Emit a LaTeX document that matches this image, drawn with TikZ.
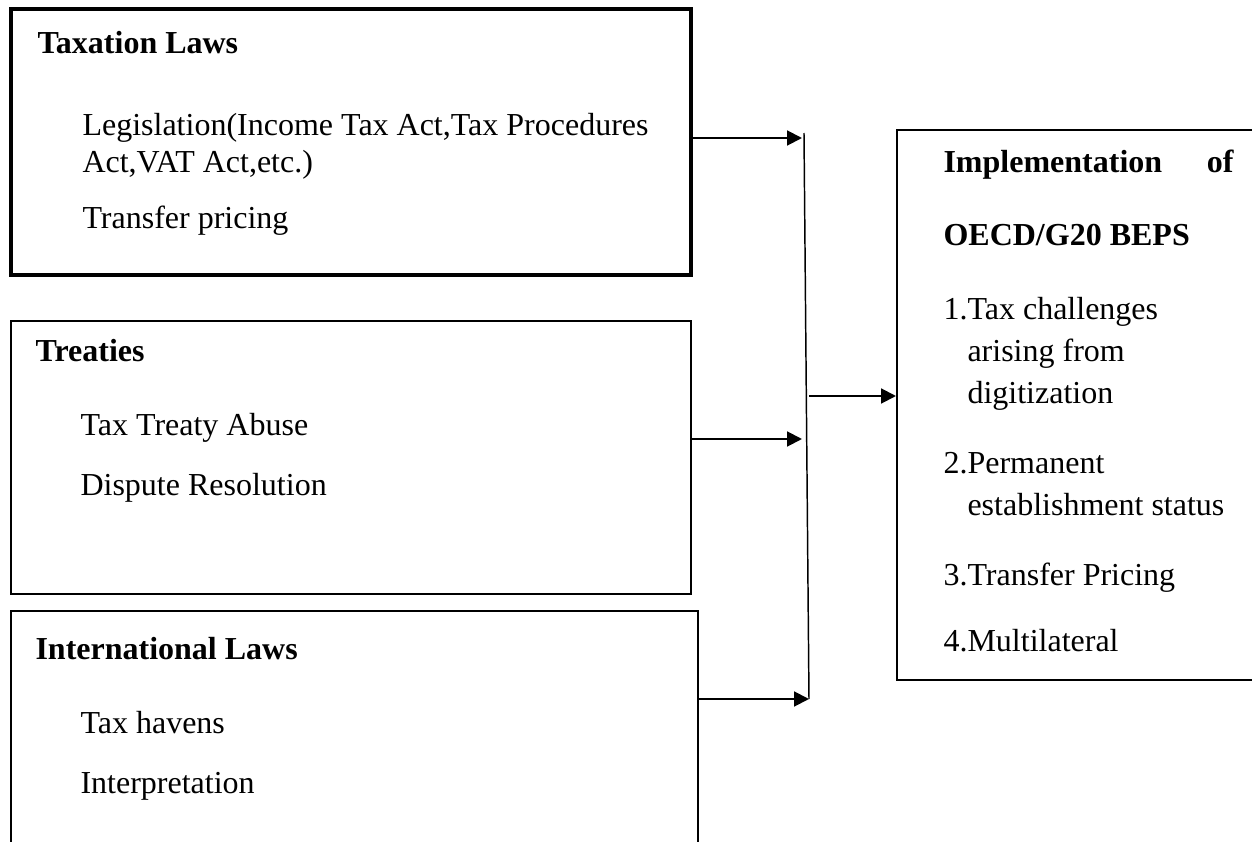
\documentclass[tikz,border=0pt]{standalone}
\usepackage{fontspec}
\setmainfont{Liberation Serif}
\usetikzlibrary{arrows.meta,fit}
\begin{document}
\begin{tikzpicture}[x=0.375pt,y=-0.375pt,
  frame/.style={draw=black,line width=0.75pt,inner sep=0pt},
  thickframe/.style={draw=black,line width=1.5pt,inner sep=0pt},
  txt/.style={anchor=base west,inner sep=0pt,font=\fontsize{12pt}{13.8pt}\selectfont},
  head/.style={txt,font=\fontsize{12pt}{13.8pt}\selectfont\bfseries},
  arr/.style={draw=black,line width=0.75pt,-{Triangle[length=5.6pt,width=5.6pt]}},
  bar/.style={draw=black,line width=0.55pt}]
\useasboundingbox (0,0) rectangle (1252,842);
\fill[white] (0,0) rectangle (1252,842);
\begin{scope}
\clip (0,0) rectangle (1252,842);

% boxes
\node[thickframe,fit={(11,9)(691,275)}] (tax) {};
\node[frame,fit={(11,321)(691,594)}] (treaty) {};
\node[frame,fit={(11,611)(698,880)}] (intl) {};
\node[frame,fit={(897,130)(1262,680)}] (beps) {};

% taxation laws
\node[head] (t0) at (37,53) {Taxation Laws};
\node[txt] (t1) at (82,135) {Legislation(Income Tax Act,Tax Procedures};
\node[txt] (t2) at (82,173) {Act,VAT Act,etc.)};
\node[txt] (t3) at (82,228) {Transfer pricing};

% treaties
\node[head] (r0) at (35,361) {Treaties};
\node[txt] (r1) at (80,435) {Tax Treaty Abuse};
\node[txt] (r2) at (80,495) {Dispute Resolution};

% international laws
\node[head] (i0) at (35,659) {International Laws};
\node[txt] (i1) at (80,733) {Tax havens};
\node[txt] (i2) at (80,793) {Interpretation};

% BEPS implementation
\node[head] (b0) at (943,172) {\hbox to 108.75pt{Implementation\hfill of}};
\node[head] (b1) at (943,245) {OECD/G20 BEPS};
\node[txt] (b2) at (943,319) {1.Tax challenges};
\node[txt] (b3) at (967,361) {arising from};
\node[txt] (b4) at (967,403) {digitization};
\node[txt] (b5) at (943,473) {2.Permanent};
\node[txt] (b6) at (967,515) {establishment status};
\node[txt] (b7) at (943,585) {3.Transfer Pricing};
\node[txt] (b8) at (943,651) {4.Multilateral};

% collecting bar and connectors
\coordinate (bartop) at (804,133);
\coordinate (barbot) at (809,699);
\coordinate (j1) at (802,138);
\coordinate (j2) at (802,439);
\coordinate (j3) at (809,699);
\coordinate (jm) at (809,396);
\draw[bar] (bartop) -- (barbot);
\draw[arr] (tax.east |- j1) -- (j1);
\draw[arr] (treaty.east |- j2) -- (j2);
\draw[arr] (intl.east |- j3) -- (j3);
\draw[arr] (jm) -- (beps.west |- jm);
\end{scope}
\end{tikzpicture}
\end{document}
